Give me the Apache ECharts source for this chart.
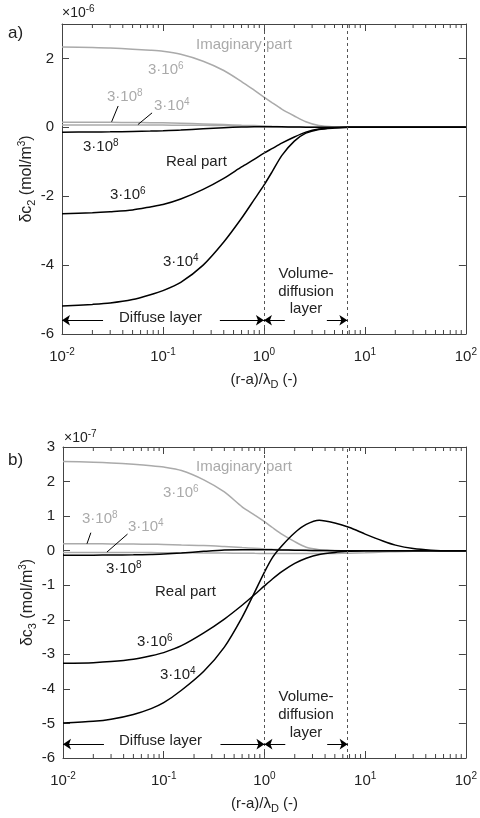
<!DOCTYPE html>
<html>
<head>
<meta charset="utf-8">
<script src="https://cdn.jsdelivr.net/npm/echarts@6/dist/echarts.min.js"></script>
<style>
html, body { margin: 0; padding: 0; background: #fff; }
#chart { width: 480px; height: 818px; }
</style>
</head>
<body>
<div id="chart"></div>
<script>
// sample positions along (r-a)/lambda_D
const xs = [0.01, 0.02, 0.03, 0.05, 0.075, 0.1, 0.15, 0.25, 0.4, 0.6, 0.8, 1, 1.2, 1.5, 2, 2.6, 3.5, 5, 7, 10, 15, 20, 30, 45, 70, 100];

// panel a) dc2, x1e-6
const realA3e4 = [-5.19, -5.14, -5.10, -5.00, -4.86, -4.74, -4.50, -4.00, -3.33, -2.64, -2.10, -1.68, -1.30, -0.82, -0.40, -0.17, -0.06, -0.02, 0, 0, 0, 0, 0, 0, 0, 0];
const realA3e6 = [-2.51, -2.48, -2.45, -2.40, -2.31, -2.24, -2.08, -1.80, -1.48, -1.15, -0.93, -0.75, -0.62, -0.46, -0.28, -0.14, -0.05, -0.01, 0, 0, 0, 0, 0, 0, 0, 0];
const realA3e8 = [-0.14, -0.135, -0.13, -0.12, -0.11, -0.10, -0.08, -0.04, -0.01, 0.01, 0.02, 0.02, 0.02, 0.015, 0.01, 0.005, 0, 0, 0, 0, 0, 0, 0, 0, 0, 0];
const imagA3e6 = [2.33, 2.32, 2.30, 2.27, 2.24, 2.21, 2.12, 1.92, 1.65, 1.33, 1.08, 0.88, 0.72, 0.53, 0.33, 0.16, 0.05, 0.01, 0, 0, 0, 0, 0, 0, 0, 0];
const imagA3e8 = [0.15, 0.15, 0.145, 0.14, 0.135, 0.13, 0.12, 0.10, 0.08, 0.06, 0.05, 0.04, 0.03, 0.02, 0.01, 0.005, 0, 0, 0, 0, 0, 0, 0, 0, 0, 0];
const imagA3e4 = [0.07, 0.07, 0.07, 0.068, 0.066, 0.065, 0.062, 0.058, 0.05, 0.04, 0.032, 0.025, 0.02, 0.012, 0.006, 0.003, 0, 0, 0, 0, 0, 0, 0, 0, 0, 0];

// panel b) dc3, x1e-7
const realB3e4 = [-4.99, -4.94, -4.88, -4.74, -4.57, -4.40, -4.04, -3.49, -2.79, -1.93, -1.20, -0.62, -0.20, 0.15, 0.52, 0.76, 0.88, 0.80, 0.67, 0.48, 0.28, 0.16, 0.06, 0.015, 0, 0];
const realB3e6 = [-3.26, -3.24, -3.21, -3.14, -3.04, -2.95, -2.75, -2.38, -1.98, -1.58, -1.27, -1.02, -0.82, -0.60, -0.37, -0.22, -0.11, -0.05, -0.02, 0, 0, 0, 0, 0, 0, 0];
const realB3e8 = [-0.13, -0.13, -0.125, -0.12, -0.11, -0.10, -0.07, -0.02, 0.02, 0.03, 0.03, 0.03, 0.025, 0.02, 0.015, 0.01, 0.005, 0, 0, 0, 0, 0, 0, 0, 0, 0];
const imagB3e6 = [2.58, 2.56, 2.54, 2.50, 2.46, 2.42, 2.32, 2.05, 1.70, 1.27, 1.03, 0.84, 0.67, 0.47, 0.26, 0.10, 0.03, 0.005, 0, 0, 0, 0, 0, 0, 0, 0];
const imagB3e8 = [0.20, 0.20, 0.195, 0.19, 0.185, 0.18, 0.165, 0.15, 0.12, 0.09, 0.07, 0.05, 0.04, 0.03, 0.015, 0.005, 0, 0, 0, 0, 0, 0, 0, 0, 0, 0];
const imagB3e4 = [-0.05, -0.05, -0.05, -0.055, -0.055, -0.06, -0.06, -0.065, -0.07, -0.075, -0.078, -0.08, -0.082, -0.084, -0.085, -0.085, -0.085, -0.08, -0.075, -0.06, -0.04, -0.03, -0.015, -0.005, 0, 0];

// layer boundaries and arrows
const layerX = [1, 6.7];
const arrowY = -5.6;
const arrowSpans = [[0.0255, 0.01], [0.366, 1], [1.61, 1], [4.2, 6.7]]; // [tail, head]
const leadersA = [[[0.036, 0.62], [0.031, 0.16]], [[0.078, 0.42], [0.0565, 0.08]]];
const leadersB = [[[0.0189, 0.52], [0.0173, 0.2]], [[0.0437, 0.48], [0.0273, -0.04]]];

// axis ranges
const xMin = 0.01, xMax = 100;
const minorX = [];
[0.01, 0.1, 1, 10].forEach(d => { for (let k = 2; k <= 9; k++) minorX.push(+(k * d).toPrecision(3)); });

const FONT = '"Liberation Sans", Arial, sans-serif';
const INK = '#222';
const GRAY = '#aaaaaa';
const AXIS = '#444';

const chart = echarts.init(document.getElementById('chart'));

function xAxisFor (gridIndex, position, labels) {
    return {
        type: 'log', logBase: 10, gridIndex, position, min: xMin, max: xMax,
        axisLine: { show: true, onZero: false, lineStyle: { color: AXIS, width: 1 } },
        axisTick: { show: true, inside: true, length: 7, lineStyle: { color: AXIS } },
        splitLine: { show: false },
        axisLabel: {
            show: labels, margin: 13, color: INK, fontFamily: FONT, fontSize: 15, lineHeight: 20,
            formatter: v => '10{sup|' + Math.round(Math.log10(v)) + '}',
            rich: { sup: { fontSize: 10, verticalAlign: 'top', color: INK, fontFamily: FONT } }
        },
        name: labels ? '(r-a)/λ{sub|D} (-)' : '',
        nameLocation: 'middle', nameGap: 36, nameMoveOverlap: false,
        nameTextStyle: {
            color: INK, fontFamily: FONT, fontSize: 15, lineHeight: 20,
            rich: { sub: { fontSize: 11, verticalAlign: 'bottom', color: INK, fontFamily: FONT } }
        }
    }
}

function yAxisFor (gridIndex, position, labels, interval, showMax, sub) {
    return {
        type: 'value', gridIndex, position, min: -6, max: 3, interval,
        axisLine: { show: true, onZero: false, lineStyle: { color: AXIS, width: 1 } },
        axisTick: { show: true, inside: true, length: 7, lineStyle: { color: AXIS } },
        splitLine: { show: false },
        axisLabel: { show: labels, showMaxLabel: showMax, margin: 8, color: INK, fontFamily: FONT, fontSize: 15 },
        name: labels ? 'δc{sub|' + sub + '} (mol/m{sup|3})' : '',
        nameLocation: 'middle', nameGap: 25, nameRotate: 90, nameMoveOverlap: false,
        nameTextStyle: {
            color: INK, fontFamily: FONT, fontSize: 16, lineHeight: 20,
            rich: {
                sub: { fontSize: 11, verticalAlign: 'bottom', color: INK, fontFamily: FONT },
                sup: { fontSize: 10, verticalAlign: 'top', color: INK, fontFamily: FONT }
            }
        }
    }
}

function curve (ys, color, xi, yi, extra) {
    return Object.assign({
        type: 'line', xAxisIndex: xi, yAxisIndex: yi,
        data: xs.map((x, i) => [x, ys[i]]),
        showSymbol: false, symbol: 'none', smooth: 0.25,
        lineStyle: { color, width: 1.5 }, silent: true
    }, extra || {})
}

function guides (leaders) {
    return {
        markLine: {
            silent: true, animation: false, label: { show: false },
            data: [
                ...layerX.map(v => [
                    { coord: [v, -6], symbol: 'none', lineStyle: { color: '#555', width: 1, type: [3, 3] } },
                    { coord: [v, 3], symbol: 'none' }
                ]),
                ...arrowSpans.map(s => [
                    { coord: [s[0], arrowY], symbol: 'none', lineStyle: { color: '#000', width: 1, type: 'solid' } },
                    { coord: [s[1], arrowY], symbol: 'arrow', symbolSize: 8 }
                ]),
                ...leaders.map(l => [
                    { coord: l[0], symbol: 'none', lineStyle: { color: '#000', width: 1, type: 'solid' } },
                    { coord: l[1], symbol: 'none' }
                ])
            ]
        }
    }
}

function minorTicks (xi, yi) {
    return {
        type: 'custom', xAxisIndex: xi, yAxisIndex: yi, silent: true, z: 5,
        data: minorX.map(v => [v, -6]),
        encode: { x: 0, y: 1 },
        renderItem (params, api) {
            const b = api.coord([api.value(0), -6]);
            const t = api.coord([api.value(0), 3]);
            const st = { stroke: AXIS, lineWidth: 1 };
            return {
                type: 'group',
                children: [
                    { type: 'line', shape: { x1: b[0], y1: b[1], x2: b[0], y2: b[1] - 4 }, style: st },
                    { type: 'line', shape: { x1: t[0], y1: t[1], x2: t[0], y2: t[1] + 4 }, style: st }
                ]
            }
        }
    }
}

function txt (text, x, y, color, align, size) {
    return {
        type: 'text', x, y, silent: true,
        style: {
            text, fill: color, fontFamily: FONT, fontSize: size || 15, lineHeight: 18,
            align: align || 'left', verticalAlign: 'middle',
            textAlign: align || 'left', textVerticalAlign: 'middle',
            rich: {
                sup: { fontSize: 10, verticalAlign: 'top', fill: color, fontFamily: FONT },
                sub: { fontSize: 11, verticalAlign: 'bottom', fill: color, fontFamily: FONT }
            }
        }
    }
}

const notes = [
    txt('a)', 8, 33, INK, 'left', 17),
    txt('×10{sup|-6}', 62, 13, INK, 'left', 14),
    txt('Imaginary part', 196, 45, GRAY),
    txt('3·10{sup|6}', 148, 70, GRAY),
    txt('3·10{sup|8}', 107, 97, GRAY),
    txt('3·10{sup|4}', 154, 106, GRAY),
    txt('3·10{sup|8}', 83, 147, INK),
    txt('Real part', 166, 162, INK),
    txt('3·10{sup|6}', 110, 195, INK),
    txt('3·10{sup|4}', 163, 262, INK),
    txt('Volume-', 306, 274, INK, 'center'),
    txt('diffusion', 306, 292, INK, 'center'),
    txt('layer', 306, 309, INK, 'center'),
    txt('Diffuse layer', 119, 318, INK),

    txt('b)', 8, 460, INK, 'left', 17),
    txt('×10{sup|-7}', 64, 438, INK, 'left', 14),
    txt('Imaginary part', 196, 467, GRAY),
    txt('3·10{sup|6}', 163, 493, GRAY),
    txt('3·10{sup|8}', 82, 519, GRAY),
    txt('3·10{sup|4}', 128, 527, GRAY),
    txt('3·10{sup|8}', 106, 569, INK),
    txt('Real part', 155, 592, INK),
    txt('3·10{sup|6}', 137, 642, INK),
    txt('3·10{sup|4}', 160, 675, INK),
    txt('Volume-', 306, 697, INK, 'center'),
    txt('diffusion', 306, 715, INK, 'center'),
    txt('layer', 306, 733, INK, 'center'),
    txt('Diffuse layer', 119, 741, INK)
];

const option = {
    animation: false,
    backgroundColor: '#fff',
    grid: [
        { left: 62, top: 24, width: 404, height: 310 },
        { left: 63, top: 447, width: 404, height: 311 }
    ],
    xAxis: [
        xAxisFor(0, 'bottom', true),
        xAxisFor(0, 'top', false),
        xAxisFor(1, 'bottom', true),
        xAxisFor(1, 'top', false)
    ],
    yAxis: [
        yAxisFor(0, 'left', true, 2, false, 2),
        yAxisFor(0, 'right', false, 2, false, 2),
        yAxisFor(1, 'left', true, 1, true, 3),
        yAxisFor(1, 'right', false, 1, true, 3)
    ],
    series: [
        curve(imagA3e4, GRAY, 0, 0),
        curve(imagA3e8, GRAY, 0, 0),
        curve(imagA3e6, GRAY, 0, 0),
        curve(realA3e8, '#000', 0, 0),
        curve(realA3e6, '#000', 0, 0),
        curve(realA3e4, '#000', 0, 0, guides(leadersA)),
        minorTicks(0, 0),

        curve(imagB3e4, GRAY, 2, 2),
        curve(imagB3e8, GRAY, 2, 2),
        curve(imagB3e6, GRAY, 2, 2),
        curve(realB3e8, '#000', 2, 2),
        curve(realB3e6, '#000', 2, 2),
        curve(realB3e4, '#000', 2, 2, guides(leadersB)),
        minorTicks(2, 2)
    ],
    graphic: notes
};

chart.setOption(option);
</script>
</body>
</html>
